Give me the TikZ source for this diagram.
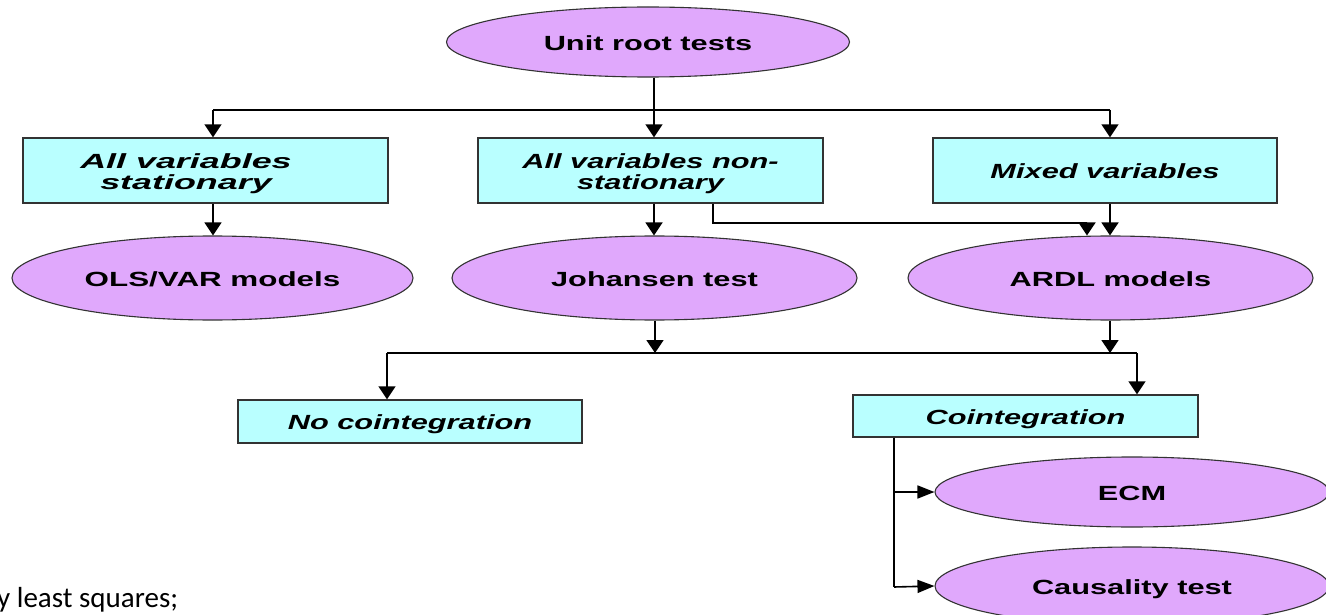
\documentclass[tikz,border=0pt]{standalone}
\usepackage{fontspec}
\setmainfont{Liberation Sans}
\newfontfamily\calib{Carlito}
\usetikzlibrary{shapes.geometric,arrows.meta}
\definecolor{ellfill}{RGB}{224,168,252}
\definecolor{boxfill}{RGB}{185,255,255}
\newcommand\wtxt[2][1.5]{\raisebox{-4pt}[\height][\depth]{\scalebox{#1}[1]{\begin{tabular}{@{}c@{}}#2\end{tabular}}}}
\tikzset{
  ell/.style={ellipse, draw=black!80, line width=1.1pt, fill=ellfill, inner sep=0pt,
    font=\fontsize{20.5}{20}\selectfont\bfseries},
  bx/.style={rectangle, draw=black!80, line width=1.4pt, fill=boxfill, inner sep=0pt,
    font=\fontsize{20.5}{20}\selectfont\bfseries\itshape},
  bxtxt/.style={inner sep=0pt, font=\fontsize{20.5}{20}\selectfont\bfseries\itshape},
  con/.style={line width=1.6pt, black},
  arrv/.style={con, -{Triangle[width=17pt,length=13pt]}},
  arrh/.style={con, -{Triangle[width=13pt,length=17pt]}},
}
\begin{document}
\begin{tikzpicture}[x=1pt,y=-1pt]
\useasboundingbox (0,0) rectangle (1326,615);
\clip (0,0) rectangle (1326,615);
\fill[white] (0,0) rectangle (1326,615);

% nodes
\node[ell, minimum width=403pt, minimum height=70pt] (unit) at (648,42) {\wtxt{Unit root tests}};
\node[bx, minimum width=365pt, minimum height=65pt] (b1) at (205.5,170.5) {};
\node[bxtxt] (b1t) at (186,170.5) {\wtxt[1.75]{All variables\\stationary}};
\node[bx, minimum width=345pt, minimum height=65pt] (b2) at (650.5,170.5) {\wtxt{All variables non-\\stationary}};
\node[bx, minimum width=344pt, minimum height=65pt] (b3) at (1105,170.5) {\wtxt{Mixed variables}};
\node[ell, minimum width=401pt, minimum height=84pt] (ols) at (212.5,278) {\wtxt[1.53]{OLS/VAR models}};
\node[ell, minimum width=405pt, minimum height=84pt] (joh) at (654.5,278) {\wtxt{Johansen test}};
\node[ell, minimum width=405pt, minimum height=84pt] (ardl) at (1110.5,278) {\wtxt{ARDL models}};
\node[bx, minimum width=344pt, minimum height=43pt] (nocoint) at (410,421.5) {\wtxt{No cointegration}};
\node[bx, minimum width=345pt, minimum height=42pt] (coint) at (1025.5,416) {\wtxt{Cointegration}};
\node[ell, minimum width=394pt, minimum height=70pt] (ecm) at (1132,492) {\wtxt{ECM}};
\node[ell, minimum width=394pt, minimum height=78pt] (caus) at (1132,586) {\wtxt{Causality test}};

\node[anchor=base west, inner sep=0pt, font=\calib\fontsize{29}{30}\selectfont] (note) at (-3,607) {y least squares;};

% junction coordinates
\coordinate (t0) at (654,110);
\coordinate (t1) at (213,110);
\coordinate (t3) at (1110,110);
\coordinate (k1) at (713,223);
\coordinate (k2) at (1087,223);
\coordinate (m0) at (655,353);
\coordinate (m3) at (1110,353);
\coordinate (mL) at (387,353);
\coordinate (mR) at (1137,353);
\coordinate (q1) at (894,492);
\coordinate (q2) at (894,587);

% connectors
\draw[con] (t1) -- (t3);
\draw[arrv] (unit.south -| t0) -- (b2.north -| t0);
\draw[arrv] (t1) -- (b1.north -| t1);
\draw[arrv] (t3) -- (b3.north -| t3);

\draw[arrv] (b1.south -| t1) -- (ols.north -| t1);
\draw[arrv] (b2.south -| t0) -- (joh.north -| t0);
\draw[arrv] (b3.south -| t3) -- (ardl.north -| t3);
\draw[arrv] (b2.south -| k1) -- (k1) -- (k2) -- (ardl.north -| k2);

\draw[con] (mL) -- (mR);
\draw[arrv] (joh.south -| m0) -- (m0);
\draw[arrv] (ardl.south -| m3) -- (m3);
\draw[arrv] (mL) -- (nocoint.north -| mL);
\draw[arrv] (mR) -- (coint.north -| mR);

\draw[con] (coint.south -| q1) -- (q2);
\draw[arrh] (q1) -- (ecm.west);
\draw[arrh] (q2) -- (caus.west);
\end{tikzpicture}
\end{document}
